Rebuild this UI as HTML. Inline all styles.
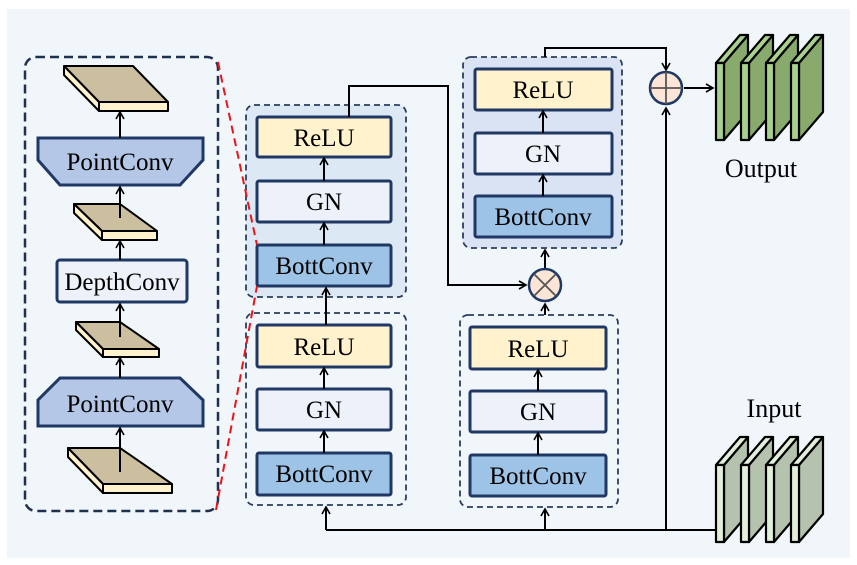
<!DOCTYPE html>
<html><head><meta charset="utf-8"><style>
html,body{margin:0;padding:0;background:#fff;}
svg{display:block;}
text{font-family:"Liberation Serif",serif;font-size:25px;fill:#000;}
</style></head><body>
<svg width="857" height="565" viewBox="0 0 857 565" xmlns="http://www.w3.org/2000/svg">
<defs>
<marker id="a" markerWidth="10" markerHeight="10" refX="8" refY="5" orient="auto" markerUnits="userSpaceOnUse">
<path d="M1,1 L8,5 L1,9" fill="none" stroke="#000" stroke-width="1.6"/>
</marker>
</defs>
<rect x="7" y="9" width="843" height="549" fill="#f1f6fb"/>

<rect x="25" y="57" width="193" height="454" rx="11" fill="none" stroke="#1f3150" stroke-width="2.5" stroke-dasharray="9,5"/>
<g stroke="#000" stroke-width="2" stroke-linejoin="round">
<polygon points="64,66 133,66 168,102 99,102" fill="#ccbfa0"/>
<polygon points="99,102 168,102 168,111 99,111" fill="#fff2cc"/>
<polygon points="64,66 99,102 99,111 64,75" fill="#fff2cc"/>
<polygon points="74,204 120,204 157,231 102,231" fill="#ccbfa0"/>
<polygon points="102,231 157,231 157,240 102,240" fill="#fff2cc"/>
<polygon points="74,204 102,231 102,240 74,213" fill="#fff2cc"/>
<polygon points="76,322 120,322 159,349 103,349" fill="#ccbfa0"/>
<polygon points="103,349 159,349 159,357 103,357" fill="#fff2cc"/>
<polygon points="76,322 103,349 103,357 76,330" fill="#fff2cc"/>
<polygon points="68,448 120,448 172,484 103,484" fill="#ccbfa0"/>
<polygon points="103,484 172,484 172,493 103,493" fill="#fff2cc"/>
<polygon points="68,448 103,484 103,493 68,457" fill="#fff2cc"/>
</g>
<polygon points="38,138 203,138 203,160 180,185 60,185 38,160" fill="#b4c7e7" stroke="#1f3864" stroke-width="3"/>
<text x="120" y="170" text-anchor="middle">PointConv</text>
<rect x="57" y="260" width="130" height="42" rx="3" fill="#edf1fa" stroke="#1f3864" stroke-width="3"/>
<text x="122" y="290" text-anchor="middle">DepthConv</text>
<polygon points="60,378 180,378 203,400 203,426 38,426 38,400" fill="#b4c7e7" stroke="#1f3864" stroke-width="3"/>
<text x="120" y="412" text-anchor="middle">PointConv</text>
<g stroke="#000" stroke-width="2" marker-end="url(#a)" fill="none">
<line x1="120" y1="472" x2="120" y2="428"/>
<line x1="120" y1="378" x2="120" y2="358"/>
<line x1="120" y1="337" x2="120" y2="304"/>
<line x1="120" y1="260" x2="120" y2="241"/>
<line x1="120" y1="218" x2="120" y2="187"/>
<line x1="120" y1="138" x2="120" y2="112"/>
</g>

<rect x="246" y="105" width="160" height="192" rx="8" fill="#dde8f5" stroke="#2a3e5c" stroke-width="1.8" stroke-dasharray="6,4"/>
<rect x="246" y="313" width="160" height="192" rx="8" fill="#f1f6fb" stroke="#2a3e5c" stroke-width="1.8" stroke-dasharray="6,4"/>
<rect x="460" y="315" width="158" height="192" rx="8" fill="#f1f6fb" stroke="#2a3e5c" stroke-width="1.8" stroke-dasharray="6,4"/>
<rect x="463" y="57" width="159" height="191" rx="8" fill="#dae3f3" stroke="#2a3e5c" stroke-width="1.8" stroke-dasharray="6,4"/>

<g stroke="#1f3864" stroke-width="3">
<rect x="257" y="117" width="134" height="40" rx="2" fill="#fff2cc"/>
<rect x="257" y="181" width="134" height="41" rx="2" fill="#edf1fa"/>
<rect x="257" y="245" width="134" height="41" rx="2" fill="#9dc3e6"/>
<rect x="257" y="325" width="134" height="42" rx="2" fill="#fff2cc"/>
<rect x="257" y="389" width="134" height="41" rx="2" fill="#edf1fa"/>
<rect x="257" y="453" width="134" height="42" rx="2" fill="#9dc3e6"/>
<rect x="470" y="327" width="136" height="42" rx="2" fill="#fff2cc"/>
<rect x="470" y="391" width="136" height="41" rx="2" fill="#edf1fa"/>
<rect x="470" y="455" width="136" height="41" rx="2" fill="#9dc3e6"/>
<rect x="475" y="69" width="137" height="41" rx="2" fill="#fff2cc"/>
<rect x="475" y="133" width="137" height="41" rx="2" fill="#edf1fa"/>
<rect x="475" y="196" width="137" height="41" rx="2" fill="#9dc3e6"/>
</g>
<g stroke="#e8141b" stroke-width="2" stroke-dasharray="8,5" fill="none">
<line x1="218" y1="62" x2="257" y2="245"/>
<line x1="216" y1="510" x2="257" y2="286"/>
</g>
<g text-anchor="middle">
<text x="324" y="146">ReLU</text><text x="324" y="210">GN</text><text x="324" y="274">BottConv</text>
<text x="324" y="355">ReLU</text><text x="324" y="418">GN</text><text x="324" y="482">BottConv</text>
<text x="538" y="357">ReLU</text><text x="538" y="420">GN</text><text x="538" y="484">BottConv</text>
<text x="543" y="98">ReLU</text><text x="543" y="162">GN</text><text x="543" y="225">BottConv</text>
</g>

<g stroke="#000" stroke-width="2" fill="none" marker-end="url(#a)">
<line x1="324" y1="245" x2="324" y2="223"/><line x1="324" y1="181" x2="324" y2="158"/>
<line x1="324" y1="453" x2="324" y2="431"/><line x1="324" y1="389" x2="324" y2="368"/>
<line x1="538" y1="455" x2="538" y2="433"/><line x1="538" y1="391" x2="538" y2="370"/>
<line x1="543" y1="196" x2="543" y2="175"/><line x1="543" y1="133" x2="543" y2="111"/>
<line x1="326" y1="325" x2="326" y2="288"/>
<polyline points="349,117 349,86 448,86 448,285 526,285"/>
<line x1="545" y1="268" x2="545" y2="250"/>
<line x1="545" y1="315" x2="545" y2="304"/>
<polyline points="545,57 545,48 666,48 666,70"/>
<line x1="684" y1="88" x2="713" y2="88"/>
<line x1="666" y1="530" x2="666" y2="108"/>
<line x1="326" y1="530" x2="326" y2="507"/>
<line x1="545" y1="530" x2="545" y2="509"/>
</g>
<line x1="326" y1="530" x2="716" y2="530" stroke="#000" stroke-width="2"/>

<circle cx="545" cy="285" r="16" fill="#fbe5d6" stroke="#1f3864" stroke-width="2.5"/>
<path d="M534,274 L556,296 M556,274 L534,296" stroke="#555" stroke-width="1.8"/>
<circle cx="666" cy="88" r="16" fill="#fbe5d6" stroke="#1f3864" stroke-width="2.5"/>
<path d="M650,88 L682,88 M666,72 L666,104" stroke="#555" stroke-width="1.8"/>

<g stroke="#000" stroke-width="2.2" stroke-linejoin="round">
<g id="os">
<polygon points="724,63 748,35 748,112 724,140" fill="#88aa6c"/>
<polygon points="716,63 724,63 748,35 740,35" fill="#a9d18e"/>
<rect x="716" y="63" width="8" height="77" fill="#a9d18e"/>
</g>
<use href="#os" x="25"/><use href="#os" x="50"/><use href="#os" x="75"/>
<g id="is">
<polygon points="724,465 748,437 748,514 724,542" fill="#b5c2ae"/>
<polygon points="716,465 724,465 748,437 740,437" fill="#e2f0d9"/>
<rect x="716" y="465" width="8" height="77" fill="#e2f0d9"/>
</g>
<use href="#is" x="25"/><use href="#is" x="50"/><use href="#is" x="75"/>
</g>
<text x="761" y="177" text-anchor="middle" style="font-size:26px">Output</text>
<text x="774" y="417" text-anchor="middle" style="font-size:26px">Input</text>
</svg>
</body></html>
